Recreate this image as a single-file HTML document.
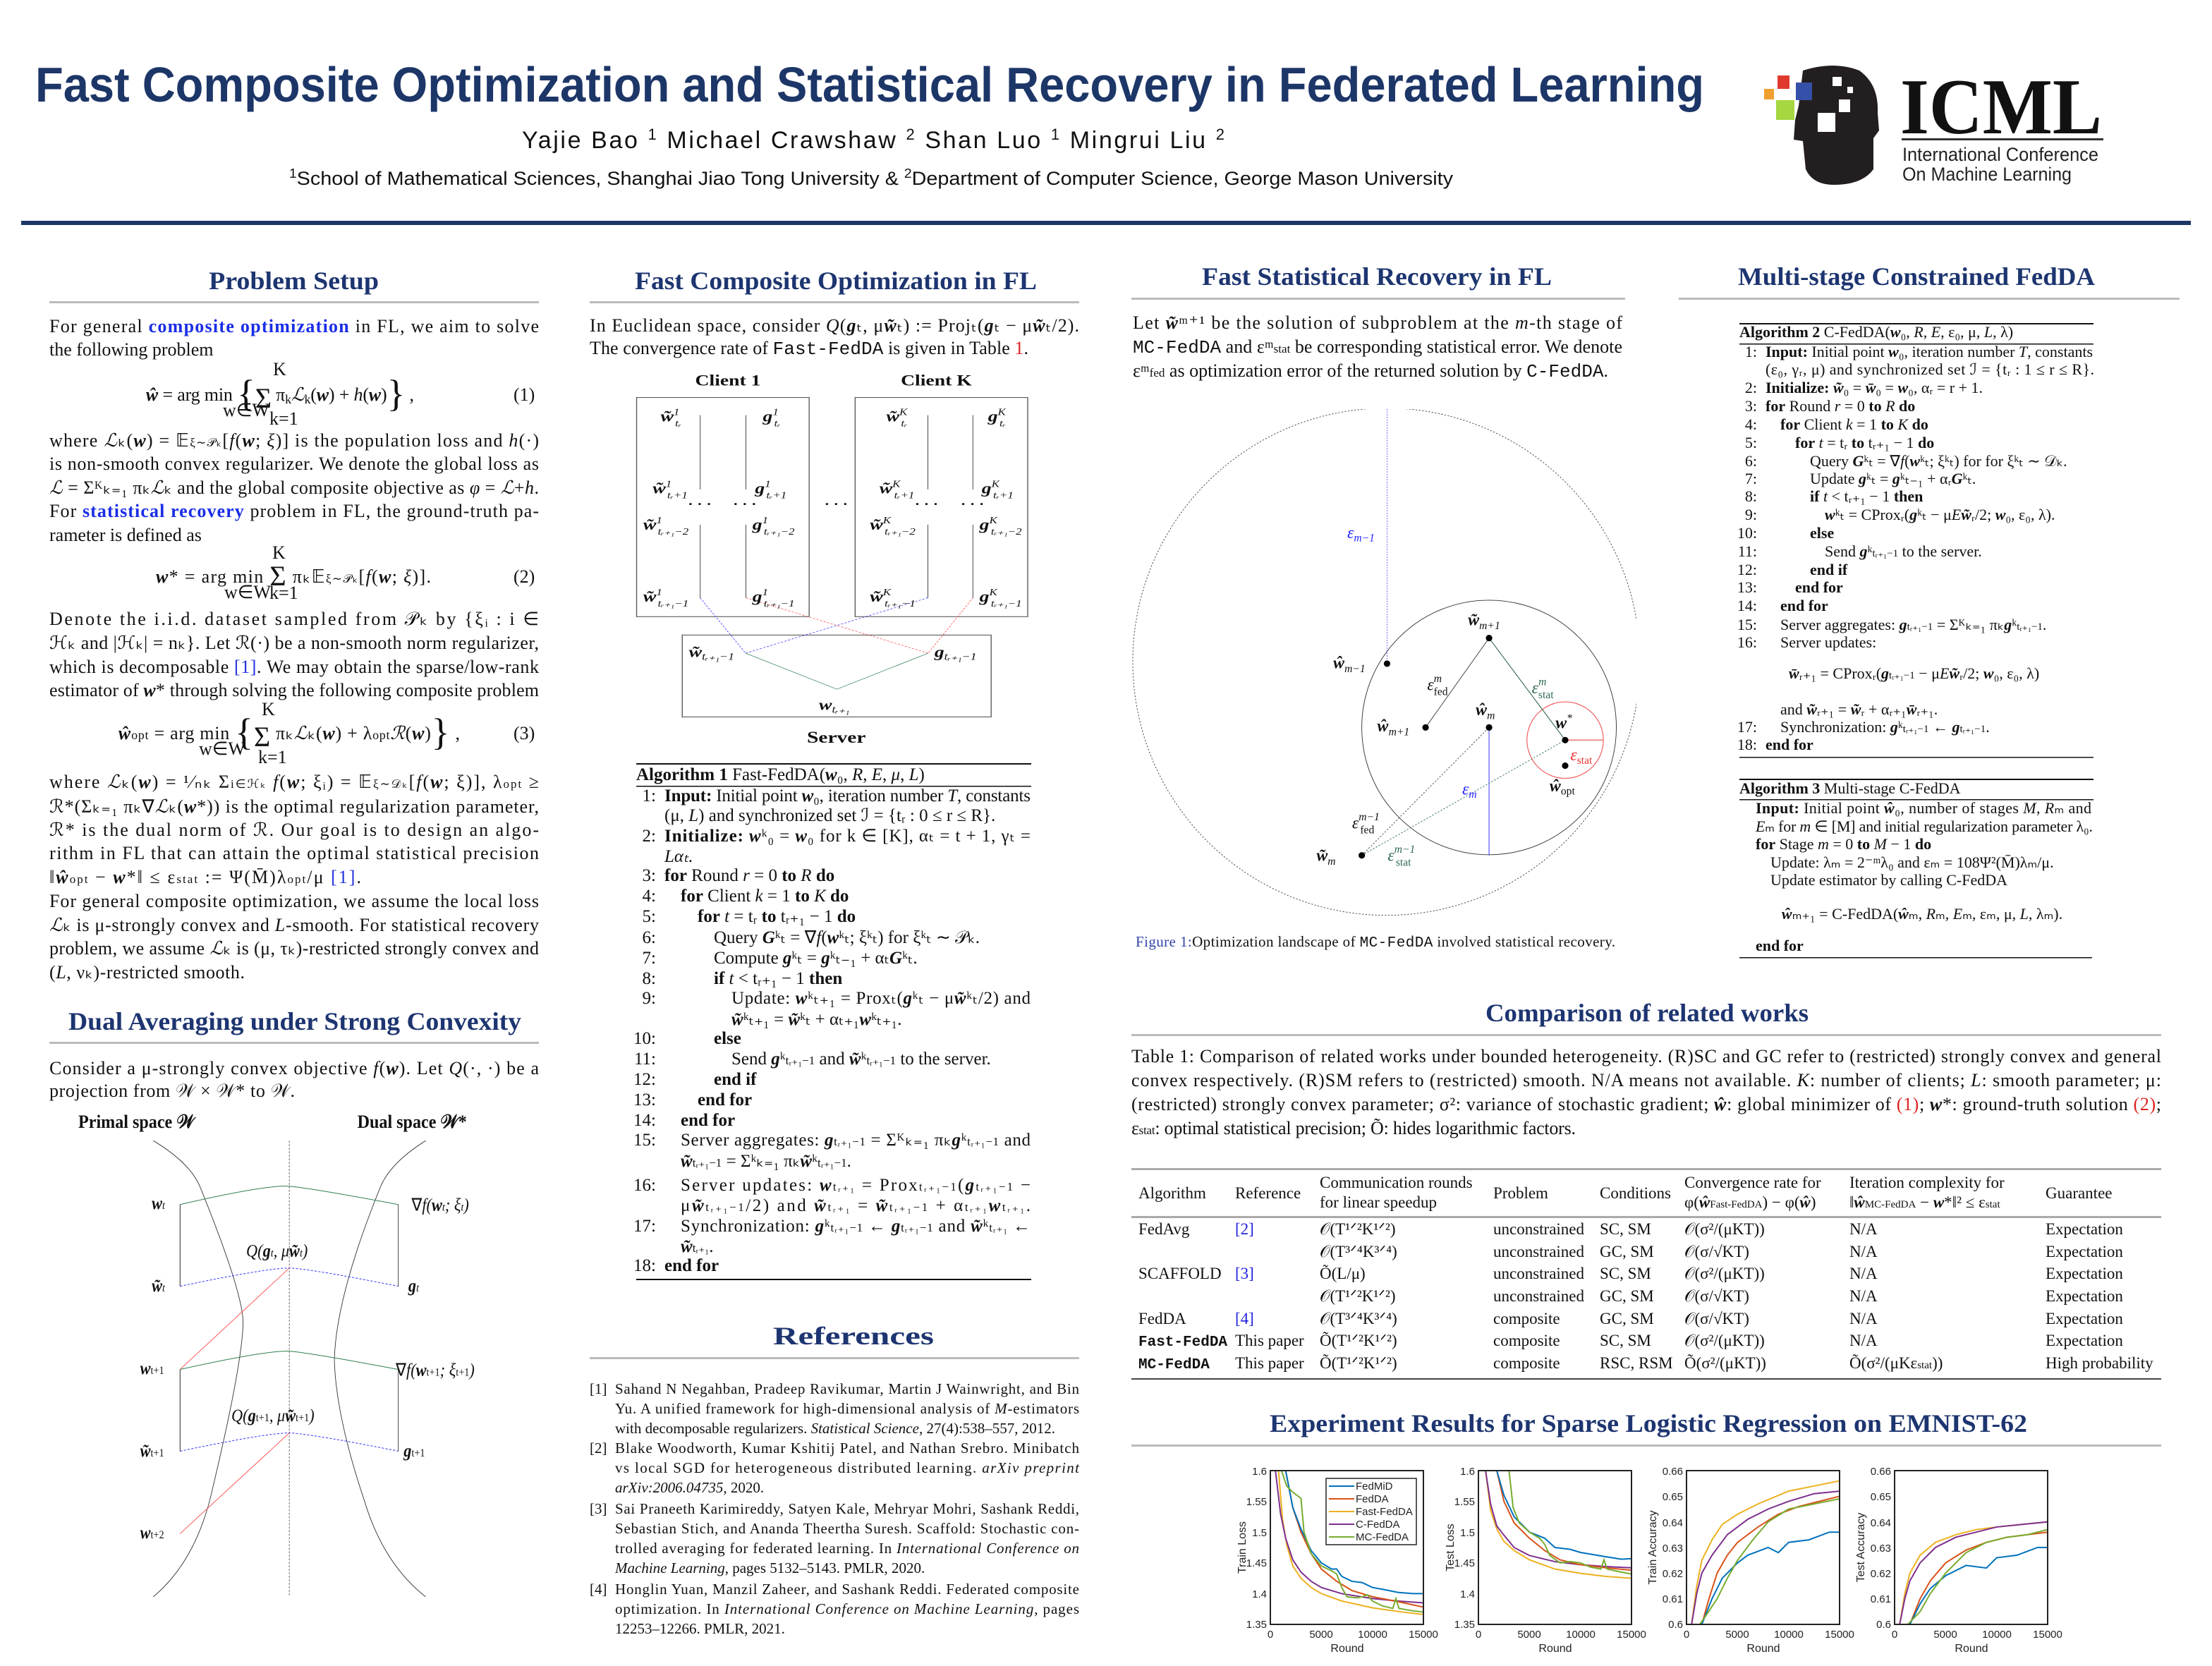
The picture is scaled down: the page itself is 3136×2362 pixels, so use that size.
<!DOCTYPE html>
<html><head><meta charset="utf-8"><style>
html,body{margin:0;padding:0;background:#fff}
svg{display:block}
.t{font-family:"Liberation Serif",serif;font-size:26px;fill:#111}
.h{font-family:"Liberation Serif",serif;font-weight:bold;font-size:36px;fill:#1d3570}
.b{font-weight:bold}
.bl{fill:#1a2ee6;font-weight:bold}
.lk{fill:#2233dd}
.a{font-family:"Liberation Serif",serif;font-size:25px;fill:#111}
.a2{font-family:"Liberation Serif",serif;font-size:22px;fill:#111}
.r{font-family:"Liberation Serif",serif;font-size:21px;fill:#111}
.tb{font-family:"Liberation Serif",serif;font-size:23px;fill:#111}
.s{font-family:"Liberation Sans",sans-serif;font-size:15px;fill:#222}
.m{font-family:"Liberation Serif",serif;font-style:italic}
</style></head><body>
<svg width="3136" height="2362" viewBox="0 0 3136 2362" xmlns="http://www.w3.org/2000/svg">
<rect width="3136" height="2362" fill="#fff"/>
<!-- Header -->
<text x="50" y="144" font-family="Liberation Sans,sans-serif" font-weight="bold" font-size="70" fill="#1d3668" textLength="2366" lengthAdjust="spacingAndGlyphs">Fast Composite Optimization and Statistical Recovery in Federated Learning</text>
<text x="740" y="210" font-family="Liberation Sans,sans-serif" font-size="34" fill="#111" textLength="996" lengthAdjust="spacing">Yajie Bao <tspan font-size="22" dy="-12">1</tspan><tspan dy="12">    Michael Crawshaw </tspan><tspan font-size="22" dy="-12">2</tspan><tspan dy="12">    Shan Luo </tspan><tspan font-size="22" dy="-12">1</tspan><tspan dy="12">    Mingrui Liu </tspan><tspan font-size="22" dy="-12">2</tspan></text>
<text x="410" y="262" font-family="Liberation Sans,sans-serif" font-size="27" fill="#111" textLength="1650" lengthAdjust="spacingAndGlyphs"><tspan font-size="18" dy="-10">1</tspan><tspan dy="10">School of Mathematical Sciences, Shanghai Jiao Tong University &amp; </tspan><tspan font-size="18" dy="-10">2</tspan><tspan dy="10">Department of Computer Science, George Mason University</tspan></text>
<rect x="30" y="313" width="3076" height="6" fill="#1d3668"/>
<!-- ICML logo -->
<path d="M2556 100 Q2600 86 2636 100 Q2664 120 2662 160 L2664 185 L2656 196 L2656 240 Q2640 262 2600 262 Q2570 262 2560 240 L2556 200 L2543 198 L2545 170 L2550 150 Z" fill="#231f20"/>
<rect x="2520" y="107" width="17" height="19" fill="#e03a2f"/>
<rect x="2546" y="117" width="23" height="25" fill="#3550a8"/>
<rect x="2501" y="126" width="14" height="15" fill="#f0a030"/>
<rect x="2518" y="142" width="26" height="28" fill="#a6d640"/>
<rect x="2598" y="109" width="13" height="13" fill="#fff"/>
<rect x="2619" y="123" width="8" height="9" fill="#fff"/>
<rect x="2607" y="141" width="16" height="18" fill="#fff"/>
<rect x="2577" y="160" width="25" height="27" fill="#fff"/>
<text x="2694" y="189" font-family="Liberation Serif,serif" font-weight="bold" font-size="112" fill="#111" textLength="286" lengthAdjust="spacingAndGlyphs">ICML</text>
<rect x="2696" y="196" width="286" height="3" fill="#333"/>
<text x="2697" y="228" font-family="Liberation Sans,sans-serif" font-size="27" fill="#222" textLength="278" lengthAdjust="spacingAndGlyphs">International Conference</text>
<text x="2697" y="256" font-family="Liberation Sans,sans-serif" font-size="27" fill="#222" textLength="240" lengthAdjust="spacingAndGlyphs">On Machine Learning</text>

<!-- Column headings -->
<text class="h" x="296" y="410" textLength="241" lengthAdjust="spacingAndGlyphs">Problem Setup</text>
<rect x="70" y="427" width="694" height="3" fill="#bbb"/>
<text class="h" x="900" y="410" textLength="570" lengthAdjust="spacingAndGlyphs">Fast Composite Optimization in FL</text>
<rect x="836" y="427" width="694" height="3" fill="#bbb"/>
<text class="h" x="1704" y="404" textLength="496" lengthAdjust="spacingAndGlyphs">Fast Statistical Recovery in FL</text>
<rect x="1604" y="422" width="700" height="3" fill="#bbb"/>
<text class="h" x="2464" y="404" textLength="506" lengthAdjust="spacingAndGlyphs">Multi-stage Constrained FedDA</text>
<rect x="2380" y="422" width="710" height="3" fill="#bbb"/>

<!-- Column 1 -->
<text class="t" x="70" y="471" textLength="694" lengthAdjust="spacing">For general <tspan class="bl">composite optimization</tspan> in FL, we aim to solve</text>
<text class="t" x="70" y="504">the following problem</text>
<text class="t" x="207" y="568" textLength="380" lengthAdjust="spacing"><tspan class="m b">ŵ</tspan> = arg min <tspan font-size="54" dy="8">{</tspan><tspan font-size="40" dy="2">Σ</tspan><tspan dy="-10"> π</tspan><tspan font-size="18" dy="4">k</tspan><tspan class="m" dy="-4">ℒ</tspan><tspan font-size="18" dy="4">k</tspan><tspan dy="-4">(</tspan><tspan class="m b">w</tspan>) + <tspan class="m">h</tspan>(<tspan class="m b">w</tspan>)<tspan font-size="54" dy="8">}</tspan><tspan dy="-8"> ,</tspan></text>
<text class="t" x="316" y="590" font-size="17">w∈W</text><text class="t" x="382" y="602" font-size="17">k=1</text><text class="t" x="387" y="532" font-size="17">K</text>
<text class="t" x="728" y="568">(1)</text>
<text class="t" x="70" y="633" textLength="694" lengthAdjust="spacing">where <tspan class="m">ℒ</tspan>ₖ(<tspan class="m b">w</tspan>) = 𝔼<tspan font-size="17">ξ∼𝒫ₖ</tspan>[<tspan class="m">f</tspan>(<tspan class="m b">w</tspan>; <tspan class="m">ξ</tspan>)] is the population loss and <tspan class="m">h</tspan>(·)</text>
<text class="t" x="70" y="666" textLength="694" lengthAdjust="spacing">is non-smooth convex regularizer. We denote the global loss as</text>
<text class="t" x="70" y="700" textLength="694" lengthAdjust="spacing"><tspan class="m">ℒ</tspan> = Σᴷₖ₌₁ πₖ<tspan class="m">ℒ</tspan>ₖ and the global composite objective as <tspan class="m">φ</tspan> = <tspan class="m">ℒ</tspan>+<tspan class="m">h</tspan>.</text>
<text class="t" x="70" y="733" textLength="694" lengthAdjust="spacing">For <tspan class="bl">statistical recovery</tspan> problem in FL, the ground-truth pa-</text>
<text class="t" x="70" y="767">rameter is defined as</text>
<text class="t" x="221" y="826" textLength="390" lengthAdjust="spacing"><tspan class="m b">w</tspan>* = arg min <tspan font-size="40" dy="4">Σ</tspan><tspan dy="-4"> πₖ𝔼</tspan><tspan font-size="17">ξ∼𝒫ₖ</tspan>[<tspan class="m">f</tspan>(<tspan class="m b">w</tspan>; <tspan class="m">ξ</tspan>)].</text>
<text class="t" x="318" y="848" font-size="17">w∈W</text><text class="t" x="382" y="849" font-size="17">k=1</text><text class="t" x="386" y="792" font-size="17">K</text>
<text class="t" x="728" y="826">(2)</text>
<text class="t" x="70" y="886" textLength="694" lengthAdjust="spacing">Denote the i.i.d.  dataset sampled from 𝒫ₖ by {ξᵢ : i ∈</text>
<text class="t" x="70" y="920" textLength="694" lengthAdjust="spacing">ℋₖ and |ℋₖ| = nₖ}. Let ℛ(·) be a non-smooth norm regularizer,</text>
<text class="t" x="70" y="954" textLength="694" lengthAdjust="spacing">which is decomposable <tspan class="lk">[1]</tspan>. We may obtain the sparse/low-rank</text>
<text class="t" x="70" y="987" textLength="694" lengthAdjust="spacing">estimator of <tspan class="m b">w</tspan>* through solving the following composite problem</text>
<text class="t" x="168" y="1048" textLength="484" lengthAdjust="spacing"><tspan class="m b">ŵ</tspan><tspan font-size="18">opt</tspan> = arg min <tspan font-size="54" dy="8">{</tspan><tspan font-size="40" dy="2">Σ</tspan><tspan dy="-10"> πₖ</tspan><tspan class="m">ℒ</tspan>ₖ(<tspan class="m b">w</tspan>) + λ<tspan font-size="18">opt</tspan><tspan class="m">ℛ</tspan>(<tspan class="m b">w</tspan>)<tspan font-size="54" dy="8">}</tspan><tspan dy="-8"> ,</tspan></text>
<text class="t" x="282" y="1070" font-size="17">w∈W</text><text class="t" x="366" y="1082" font-size="17">k=1</text><text class="t" x="371" y="1014" font-size="17">K</text>
<text class="t" x="728" y="1048">(3)</text>
<text class="t" x="70" y="1117" textLength="694" lengthAdjust="spacing">where <tspan class="m">ℒ</tspan>ₖ(<tspan class="m b">w</tspan>) = ¹⁄ₙₖ Σ<tspan font-size="17">i∈ℋₖ</tspan> <tspan class="m">f</tspan>(<tspan class="m b">w</tspan>; ξᵢ) = 𝔼<tspan font-size="17">ξ∼𝒟ₖ</tspan>[<tspan class="m">f</tspan>(<tspan class="m b">w</tspan>; ξ)], λ<tspan font-size="17">opt</tspan> ≥</text>
<text class="t" x="70" y="1152" textLength="694" lengthAdjust="spacing">ℛ*(Σₖ₌₁ πₖ∇<tspan class="m">ℒ</tspan>ₖ(<tspan class="m b">w</tspan>*)) is the optimal regularization parameter,</text>
<text class="t" x="70" y="1185" textLength="694" lengthAdjust="spacing">ℛ* is the dual norm of ℛ.  Our goal is to design an algo-</text>
<text class="t" x="70" y="1218" textLength="694" lengthAdjust="spacing">rithm in FL that can attain the optimal statistical precision</text>
<text class="t" x="70" y="1252" textLength="442" lengthAdjust="spacing">‖<tspan class="m b">ŵ</tspan><tspan font-size="17">opt</tspan> − <tspan class="m b">w</tspan>*‖ ≤ ε<tspan font-size="17">stat</tspan> := Ψ(M̄)λ<tspan font-size="17">opt</tspan>/μ <tspan class="lk">[1]</tspan>.</text>
<text class="t" x="70" y="1286" textLength="694" lengthAdjust="spacing">For general composite optimization, we assume the local loss</text>
<text class="t" x="70" y="1320" textLength="694" lengthAdjust="spacing"><tspan class="m">ℒ</tspan>ₖ is μ-strongly convex and <tspan class="m">L</tspan>-smooth. For statistical recovery</text>
<text class="t" x="70" y="1353" textLength="694" lengthAdjust="spacing">problem, we assume <tspan class="m">ℒ</tspan>ₖ is (μ, τₖ)-restricted strongly convex and</text>
<text class="t" x="70" y="1387" textLength="277" lengthAdjust="spacing">(<tspan class="m">L</tspan>, νₖ)-restricted smooth.</text>
<text class="h" x="97" y="1460" textLength="642" lengthAdjust="spacingAndGlyphs">Dual Averaging under Strong Convexity</text>
<rect x="70" y="1477" width="694" height="3" fill="#bbb"/>
<text class="t" x="70" y="1523" textLength="694" lengthAdjust="spacing">Consider a μ-strongly convex objective <tspan class="m">f</tspan>(<tspan class="m b">w</tspan>).  Let <tspan class="m">Q</tspan>(·, ·) be a</text>
<text class="t" x="70" y="1555" textLength="348" lengthAdjust="spacing">projection from 𝒲 × 𝒲* to 𝒲.</text>

<!-- Primal / dual figure -->
<svg x="70" y="1560" width="700" height="780" viewBox="0 0 1568 1568" preserveAspectRatio="none">
<g font-family="Liberation Serif,serif" fill="#111">
<text x="92" y="78" font-size="54" font-weight="bold">Primal space 𝒲</text>
<text x="978" y="78" font-size="54" font-weight="bold">Dual space 𝒲*</text>
<path d="M330 115 Q450 180 480 250 Q620 560 615 640 Q610 760 520 1100 Q470 1310 330 1415" fill="none" stroke="#333" stroke-width="2"/>
<path d="M1195 115 Q1080 180 1050 250 Q910 560 905 740 Q910 900 1000 1140 Q1060 1320 1195 1415" fill="none" stroke="#333" stroke-width="2"/>
<line x1="762" y1="115" x2="762" y2="1415" stroke="#555" stroke-width="2" stroke-dasharray="6,4"/>
<path d="M415 297 Q690 240 762 245 Q830 250 1108 297" fill="none" stroke="#2e7d4f" stroke-width="2"/>
<path d="M415 767 Q690 712 762 715 Q830 720 1108 767" fill="none" stroke="#2e7d4f" stroke-width="2"/>
<path d="M415 530 Q690 478 762 478 Q830 480 1108 530" fill="none" stroke="#33f" stroke-width="2" stroke-dasharray="7,5"/>
<path d="M415 1000 Q690 948 762 948 Q830 950 1108 1000" fill="none" stroke="#33f" stroke-width="2" stroke-dasharray="7,5"/>
<line x1="415" y1="297" x2="415" y2="530" stroke="#111" stroke-width="2"/>
<line x1="415" y1="767" x2="415" y2="1000" stroke="#111" stroke-width="2"/>
<line x1="1108" y1="297" x2="1108" y2="530" stroke="#333" stroke-width="2"/>
<line x1="1108" y1="767" x2="1108" y2="1000" stroke="#333" stroke-width="2"/>
<line x1="762" y1="478" x2="415" y2="767" stroke="#f55" stroke-width="2"/>
<line x1="762" y1="948" x2="415" y2="1235" stroke="#f55" stroke-width="2"/>
<g font-size="50" font-style="italic">
<text x="325" y="310" font-weight="bold">w<tspan font-size="32" font-weight="normal">t</tspan></text>
<text x="325" y="545" font-weight="bold">w̃<tspan font-size="32" font-weight="normal">t</tspan></text>
<text x="288" y="780" font-weight="bold">w<tspan font-size="32" font-weight="normal" font-style="normal">t+1</tspan></text>
<text x="288" y="1015" font-weight="bold">w̃<tspan font-size="32" font-weight="normal" font-style="normal">t+1</tspan></text>
<text x="288" y="1248" font-weight="bold">w<tspan font-size="32" font-weight="normal" font-style="normal">t+2</tspan></text>
<text x="1150" y="315"><tspan font-style="normal">∇</tspan>f(<tspan font-weight="bold">w</tspan><tspan font-size="32">t</tspan>; ξ<tspan font-size="32">t</tspan>)</text>
<text x="1140" y="545" font-weight="bold">g<tspan font-size="32" font-weight="normal">t</tspan></text>
<text x="1100" y="785"><tspan font-style="normal">∇</tspan>f(<tspan font-weight="bold">w</tspan><tspan font-size="32" font-style="normal">t+1</tspan>; ξ<tspan font-size="32" font-style="normal">t+1</tspan>)</text>
<text x="1125" y="1015" font-weight="bold">g<tspan font-size="32" font-weight="normal" font-style="normal">t+1</tspan></text>
<text x="625" y="445">Q(<tspan font-weight="bold">g</tspan><tspan font-size="32">t</tspan>, μ<tspan font-weight="bold">w̃</tspan><tspan font-size="32">t</tspan>)</text>
<text x="578" y="915">Q(<tspan font-weight="bold">g</tspan><tspan font-size="32" font-style="normal">t+1</tspan>, μ<tspan font-weight="bold">w̃</tspan><tspan font-size="32" font-style="normal">t+1</tspan>)</text>
</g></g></svg>

<!-- Column 2 -->
<text class="t" x="836" y="470" textLength="694" lengthAdjust="spacing">In Euclidean space, consider <tspan class="m">Q</tspan>(<tspan class="m b">g</tspan>ₜ, μ<tspan class="m b">w̃</tspan>ₜ) := Projₜ(<tspan class="m b">g</tspan>ₜ − μ<tspan class="m b">w̃</tspan>ₜ/2).</text>
<text class="t" x="836" y="502" textLength="622" lengthAdjust="spacing">The convergence rate of <tspan font-family="Liberation Mono,monospace">Fast-FedDA</tspan> is given in Table <tspan fill="#d22">1</tspan>.</text>
<svg x="836" y="510" width="700" height="560" viewBox="0 0 1568 1568" preserveAspectRatio="none">
<g font-family="Liberation Serif,serif" fill="#111">
<text x="335" y="102" font-size="62" font-weight="bold">Client 1</text>
<text x="988" y="102" font-size="62" font-weight="bold">Client K</text>
<rect x="149" y="150" width="548" height="870" fill="none" stroke="#555" stroke-width="3"/>
<rect x="843" y="150" width="548" height="870" fill="none" stroke="#555" stroke-width="3"/>
<rect x="294" y="1093" width="981" height="325" fill="none" stroke="#555" stroke-width="3"/>
<g stroke="#333" stroke-width="2">
<line x1="351" y1="220" x2="351" y2="515"/><line x1="496" y1="220" x2="496" y2="515"/>
<line x1="351" y1="655" x2="351" y2="945"/><line x1="496" y1="655" x2="496" y2="945"/>
<line x1="1074" y1="220" x2="1074" y2="515"/><line x1="1217" y1="220" x2="1217" y2="515"/>
<line x1="1074" y1="655" x2="1074" y2="945"/><line x1="1217" y1="655" x2="1217" y2="945"/>
</g>
<g stroke-width="2" stroke-dasharray="7,5" fill="none">
<line x1="351" y1="945" x2="495" y2="1165" stroke="#33f"/><line x1="1074" y1="945" x2="495" y2="1165" stroke="#33f"/>
<line x1="496" y1="945" x2="1075" y2="1165" stroke="#f44"/><line x1="1217" y1="945" x2="1075" y2="1165" stroke="#f44"/>
</g>
<polyline points="495,1165 785,1308 1075,1165" fill="none" stroke="#2e7d4f" stroke-width="2"/>
<g font-size="62" font-style="italic" font-weight="bold">
<text x="225" y="245">w̃<tspan font-size="38" font-weight="normal" dy="-25">1</tspan><tspan font-size="38" font-weight="normal" dx="-14" dy="45">tᵣ</tspan></text>
<text x="550" y="245">g<tspan font-size="38" font-weight="normal" dy="-25">1</tspan><tspan font-size="38" font-weight="normal" dx="-14" dy="45">tᵣ</tspan></text>
<text x="200" y="530">w̃<tspan font-size="38" font-weight="normal" dy="-25">1</tspan><tspan font-size="38" font-weight="normal" dx="-14" dy="45">tᵣ+1</tspan></text>
<text x="525" y="530">g<tspan font-size="38" font-weight="normal" dy="-25">1</tspan><tspan font-size="38" font-weight="normal" dx="-14" dy="45">tᵣ+1</tspan></text>
<text x="170" y="675">w̃<tspan font-size="38" font-weight="normal" dy="-25">1</tspan><tspan font-size="38" font-weight="normal" dx="-14" dy="45">tᵣ₊₁−2</tspan></text>
<text x="517" y="675">g<tspan font-size="38" font-weight="normal" dy="-25">1</tspan><tspan font-size="38" font-weight="normal" dx="-14" dy="45">tᵣ₊₁−2</tspan></text>
<text x="170" y="960">w̃<tspan font-size="38" font-weight="normal" dy="-25">1</tspan><tspan font-size="38" font-weight="normal" dx="-14" dy="45">tᵣ₊₁−1</tspan></text>
<text x="517" y="960">g<tspan font-size="38" font-weight="normal" dy="-25">1</tspan><tspan font-size="38" font-weight="normal" dx="-14" dy="45">tᵣ₊₁−1</tspan></text>
<text x="942" y="245">w̃<tspan font-size="38" font-weight="normal" dy="-25">K</tspan><tspan font-size="38" font-weight="normal" dx="-20" dy="45">tᵣ</tspan></text>
<text x="1265" y="245">g<tspan font-size="38" font-weight="normal" dy="-25">K</tspan><tspan font-size="38" font-weight="normal" dx="-20" dy="45">tᵣ</tspan></text>
<text x="920" y="530">w̃<tspan font-size="38" font-weight="normal" dy="-25">K</tspan><tspan font-size="38" font-weight="normal" dx="-20" dy="45">tᵣ+1</tspan></text>
<text x="1245" y="530">g<tspan font-size="38" font-weight="normal" dy="-25">K</tspan><tspan font-size="38" font-weight="normal" dx="-20" dy="45">tᵣ+1</tspan></text>
<text x="890" y="675">w̃<tspan font-size="38" font-weight="normal" dy="-25">K</tspan><tspan font-size="38" font-weight="normal" dx="-20" dy="45">tᵣ₊₁−2</tspan></text>
<text x="1238" y="675">g<tspan font-size="38" font-weight="normal" dy="-25">K</tspan><tspan font-size="38" font-weight="normal" dx="-20" dy="45">tᵣ₊₁−2</tspan></text>
<text x="890" y="960">w̃<tspan font-size="38" font-weight="normal" dy="-25">K</tspan><tspan font-size="38" font-weight="normal" dx="-20" dy="45">tᵣ₊₁−1</tspan></text>
<text x="1238" y="960">g<tspan font-size="38" font-weight="normal" dy="-25">K</tspan><tspan font-size="38" font-weight="normal" dx="-20" dy="45">tᵣ₊₁−1</tspan></text>
<text x="315" y="1180">w̃<tspan font-size="40" font-weight="normal" dy="12">tᵣ₊₁−1</tspan></text>
<text x="1095" y="1180">g<tspan font-size="40" font-weight="normal" dy="12">tᵣ₊₁−1</tspan></text>
<text x="728" y="1390">w<tspan font-size="40" font-weight="normal" dy="12">tᵣ₊₁</tspan></text>
</g>
<g font-size="50" font-weight="bold"><text x="312" y="590">· · ·</text><text x="455" y="590">· · ·</text><text x="745" y="590">· · ·</text><text x="1032" y="590">· · ·</text><text x="1178" y="590">· · ·</text></g>
<text x="690" y="1520" font-size="66" font-weight="bold">Server</text>
</g></svg>

<!-- Algorithm 1 -->
<rect x="902" y="1082" width="560" height="2" fill="#111"/>
<text class="a" x="902" y="1106"><tspan class="b">Algorithm 1</tspan> Fast-FedDA(<tspan class="m b">w</tspan>₀, <tspan class="m">R</tspan>, <tspan class="m">E</tspan>, <tspan class="m">μ</tspan>, <tspan class="m">L</tspan>)</text>
<rect x="902" y="1114" width="560" height="1.5" fill="#111"/>
<g class="a">
<text x="930" y="1136" text-anchor="end">1:</text><text x="942" y="1136" textLength="519" lengthAdjust="spacing"><tspan class="b">Input:</tspan> Initial point <tspan class="m b">w</tspan>₀, iteration number <tspan class="m">T</tspan>, constants</text>
<text x="942" y="1164">(μ, <tspan class="m">L</tspan>) and synchronized set ℐ = {tᵣ : 0 ≤ r ≤ R}.</text>
<text x="930" y="1193" text-anchor="end">2:</text><text x="942" y="1193" textLength="519" lengthAdjust="spacing"><tspan class="b">Initialize:</tspan> <tspan class="m b">w</tspan>ᵏ₀ = <tspan class="m b">w</tspan>₀ for k ∈ [K], αₜ = t + 1, γₜ =</text>
<text x="942" y="1222" class="m">Lαₜ.</text>
<text x="930" y="1249" text-anchor="end">3:</text><text x="942" y="1249"><tspan class="b">for</tspan> Round <tspan class="m">r</tspan> = 0 <tspan class="b">to</tspan> <tspan class="m">R</tspan> <tspan class="b">do</tspan></text>
<text x="930" y="1278" text-anchor="end">4:</text><text x="965" y="1278"><tspan class="b">for</tspan> Client <tspan class="m">k</tspan> = 1 <tspan class="b">to</tspan> <tspan class="m">K</tspan> <tspan class="b">do</tspan></text>
<text x="930" y="1307" text-anchor="end">5:</text><text x="989" y="1307"><tspan class="b">for</tspan> <tspan class="m">t</tspan> = tᵣ <tspan class="b">to</tspan> tᵣ₊₁ − 1 <tspan class="b">do</tspan></text>
<text x="930" y="1337" text-anchor="end">6:</text><text x="1012" y="1337">Query <tspan class="m b">G</tspan>ᵏₜ = ∇<tspan class="m">f</tspan>(<tspan class="m b">w</tspan>ᵏₜ; ξᵏₜ) for ξᵏₜ ∼ 𝒫ₖ.</text>
<text x="930" y="1366" text-anchor="end">7:</text><text x="1012" y="1366">Compute <tspan class="m b">g</tspan>ᵏₜ = <tspan class="m b">g</tspan>ᵏₜ₋₁ + αₜ<tspan class="m b">G</tspan>ᵏₜ.</text>
<text x="930" y="1395" text-anchor="end">8:</text><text x="1012" y="1395"><tspan class="b">if</tspan> <tspan class="m">t</tspan> &lt; tᵣ₊₁ − 1 <tspan class="b">then</tspan></text>
<text x="930" y="1423" text-anchor="end">9:</text><text x="1037" y="1423" textLength="424" lengthAdjust="spacing">Update: <tspan class="m b">w</tspan>ᵏₜ₊₁ = Proxₜ(<tspan class="m b">g</tspan>ᵏₜ − μ<tspan class="m b">w̃</tspan>ᵏₜ/2) and</text>
<text x="1037" y="1453"><tspan class="m b">w̃</tspan>ᵏₜ₊₁ = <tspan class="m b">w̃</tspan>ᵏₜ + αₜ₊₁<tspan class="m b">w</tspan>ᵏₜ₊₁.</text>
<text x="930" y="1480" text-anchor="end">10:</text><text x="1012" y="1480" class="b">else</text>
<text x="930" y="1509" text-anchor="end">11:</text><text x="1037" y="1509">Send <tspan class="m b">g</tspan>ᵏ<tspan font-size="17">tᵣ₊₁−1</tspan> and <tspan class="m b">w̃</tspan>ᵏ<tspan font-size="17">tᵣ₊₁−1</tspan> to the server.</text>
<text x="930" y="1538" text-anchor="end">12:</text><text x="1012" y="1538" class="b">end if</text>
<text x="930" y="1567" text-anchor="end">13:</text><text x="989" y="1567" class="b">end for</text>
<text x="930" y="1596" text-anchor="end">14:</text><text x="965" y="1596" class="b">end for</text>
<text x="930" y="1624" text-anchor="end">15:</text><text x="965" y="1624" textLength="496" lengthAdjust="spacing">Server aggregates: <tspan class="m b">g</tspan><tspan font-size="17">tᵣ₊₁−1</tspan> = Σᴷₖ₌₁ πₖ<tspan class="m b">g</tspan>ᵏ<tspan font-size="17">tᵣ₊₁−1</tspan> and</text>
<text x="965" y="1654"><tspan class="m b">w̃</tspan><tspan font-size="17">tᵣ₊₁−1</tspan> = Σᵏₖ₌₁ πₖ<tspan class="m b">w̃</tspan>ᵏ<tspan font-size="17">tᵣ₊₁−1</tspan>.</text>
<text x="930" y="1688" text-anchor="end">16:</text><text x="965" y="1688" textLength="496" lengthAdjust="spacing">Server updates: <tspan class="m b">w</tspan><tspan font-size="17">tᵣ₊₁</tspan> = Prox<tspan font-size="17">tᵣ₊₁−1</tspan>(<tspan class="m b">g</tspan><tspan font-size="17">tᵣ₊₁−1</tspan> −</text>
<text x="965" y="1717" textLength="496" lengthAdjust="spacing">μ<tspan class="m b">w̃</tspan><tspan font-size="17">tᵣ₊₁−1</tspan>/2) and <tspan class="m b">w̃</tspan><tspan font-size="17">tᵣ₊₁</tspan> = <tspan class="m b">w̃</tspan><tspan font-size="17">tᵣ₊₁−1</tspan> + α<tspan font-size="17">tᵣ₊₁</tspan><tspan class="m b">w</tspan><tspan font-size="17">tᵣ₊₁</tspan>.</text>
<text x="930" y="1746" text-anchor="end">17:</text><text x="965" y="1746" textLength="496" lengthAdjust="spacing">Synchronization: <tspan class="m b">g</tspan>ᵏ<tspan font-size="17">tᵣ₊₁−1</tspan> ← <tspan class="m b">g</tspan><tspan font-size="17">tᵣ₊₁−1</tspan> and <tspan class="m b">w̃</tspan>ᵏ<tspan font-size="17">tᵣ₊₁</tspan> ←</text>
<text x="965" y="1775"><tspan class="m b">w̃</tspan><tspan font-size="17">tᵣ₊₁</tspan>.</text>
<text x="930" y="1802" text-anchor="end">18:</text><text x="942" y="1802" class="b">end for</text>
</g>
<rect x="902" y="1813" width="560" height="2" fill="#111"/>

<!-- References -->
<text class="h" x="1096" y="1906" textLength="228" lengthAdjust="spacingAndGlyphs">References</text>
<rect x="836" y="1924" width="694" height="3" fill="#bbb"/>
<g class="r">
<text x="836" y="1976">[1]</text><text x="872" y="1976" textLength="658" lengthAdjust="spacing">Sahand N Negahban, Pradeep Ravikumar, Martin J Wainwright, and Bin</text>
<text x="872" y="2004" textLength="658" lengthAdjust="spacing">Yu.  A unified framework for high-dimensional analysis of <tspan class="m">M</tspan>-estimators</text>
<text x="872" y="2032">with decomposable regularizers. <tspan font-style="italic">Statistical Science</tspan>, 27(4):538–557, 2012.</text>
<text x="836" y="2060">[2]</text><text x="872" y="2060" textLength="658" lengthAdjust="spacing">Blake Woodworth, Kumar Kshitij Patel, and Nathan Srebro.  Minibatch</text>
<text x="872" y="2088" textLength="658" lengthAdjust="spacing">vs local SGD for heterogeneous distributed learning.  <tspan font-style="italic">arXiv preprint</tspan></text>
<text x="872" y="2116"><tspan font-style="italic">arXiv:2006.04735</tspan>, 2020.</text>
<text x="836" y="2146">[3]</text><text x="872" y="2146" textLength="658" lengthAdjust="spacing">Sai Praneeth Karimireddy, Satyen Kale, Mehryar Mohri, Sashank Reddi,</text>
<text x="872" y="2174" textLength="658" lengthAdjust="spacing">Sebastian Stich, and Ananda Theertha Suresh.  Scaffold: Stochastic con-</text>
<text x="872" y="2202" textLength="658" lengthAdjust="spacing">trolled averaging for federated learning.  In <tspan font-style="italic">International Conference on</tspan></text>
<text x="872" y="2230"><tspan font-style="italic">Machine Learning</tspan>, pages 5132–5143. PMLR, 2020.</text>
<text x="836" y="2260">[4]</text><text x="872" y="2260" textLength="658" lengthAdjust="spacing">Honglin Yuan, Manzil Zaheer, and Sashank Reddi.  Federated composite</text>
<text x="872" y="2288" textLength="658" lengthAdjust="spacing">optimization. In <tspan font-style="italic">International Conference on Machine Learning</tspan>, pages</text>
<text x="872" y="2316">12253–12266. PMLR, 2021.</text>
</g>

<!-- Column 3 -->
<text class="t" x="1606" y="466" textLength="694" lengthAdjust="spacing">Let <tspan class="m b">w̃</tspan>ᵐ⁺¹ be the solution of subproblem at the <tspan class="m">m</tspan>-th stage of</text>
<text class="t" x="1606" y="500" textLength="694" lengthAdjust="spacing"><tspan font-family="Liberation Mono,monospace">MC-FedDA</tspan> and εᵐ<tspan font-size="17">stat</tspan> be corresponding statistical error.  We denote</text>
<text class="t" x="1606" y="534" textLength="674" lengthAdjust="spacing">εᵐ<tspan font-size="17">fed</tspan> as optimization error of the returned solution by <tspan font-family="Liberation Mono,monospace">C-FedDA</tspan>.</text>
<svg x="1600" y="580" width="720" height="720" viewBox="0 0 1568 1568">
<g font-family="Liberation Serif,serif" fill="#111">
<circle cx="796" cy="780" r="783" fill="none" stroke="#444" stroke-width="2" stroke-dasharray="5,5"/>
<circle cx="1113" cy="983" r="393" fill="none" stroke="#333" stroke-width="2"/>
<circle cx="1348" cy="1022" r="118" fill="none" stroke="#e33" stroke-width="2"/>
<line x1="798" y1="0" x2="798" y2="786" stroke="#55f" stroke-width="2" stroke-dasharray="4,4"/>
<line x1="1113" y1="983" x2="1113" y2="1378" stroke="#22f" stroke-width="2"/>
<line x1="1348" y1="1022" x2="1466" y2="1022" stroke="#e88" stroke-width="4"/>
<polyline points="917,983 1113,707 1348,1022" fill="none" stroke="#333" stroke-width="2"/>
<line x1="1113" y1="707" x2="1348" y2="1022" stroke="#2e6b4f" stroke-width="2"/>
<line x1="720" y1="1378" x2="1113" y2="983" stroke="#444" stroke-width="2" stroke-dasharray="5,5"/>
<line x1="720" y1="1378" x2="1348" y2="1022" stroke="#2e6b4f" stroke-width="2" stroke-dasharray="5,5"/>
<g fill="#000"><circle cx="798" cy="786" r="10"/><circle cx="1113" cy="707" r="10"/><circle cx="917" cy="983" r="10"/><circle cx="1113" cy="983" r="10"/><circle cx="1348" cy="1022" r="10"/><circle cx="1348" cy="1101" r="10"/><circle cx="720" cy="1378" r="10"/></g>
<g font-size="52" font-style="italic">
<text x="675" y="398" fill="#22f">ε<tspan font-size="34" dy="10">m−1</tspan></text>
<text x="632" y="800" font-weight="bold">ŵ<tspan font-size="34" font-weight="normal" dy="12">m−1</tspan></text>
<text x="1048" y="668" font-weight="bold">w̃<tspan font-size="34" font-weight="normal" dy="12">m+1</tspan></text>
<text x="768" y="995" font-weight="bold">ŵ<tspan font-size="34" font-weight="normal" dy="12">m+1</tspan></text>
<text x="1072" y="945" font-weight="bold">ŵ<tspan font-size="34" font-weight="normal" dy="12">m</tspan></text>
<text x="1318" y="985" font-weight="bold">w<tspan font-size="34" font-weight="normal" dy="-20">*</tspan></text>
<text x="1300" y="1180" font-weight="bold">ŵ<tspan font-size="34" font-weight="normal" font-style="normal" dy="10">opt</tspan></text>
<text x="580" y="1395" font-weight="bold">w̃<tspan font-size="34" font-weight="normal" dy="12">m</tspan></text>
<text x="922" y="868">ε<tspan font-size="34" dy="-25">m</tspan><tspan font-size="34" font-style="normal" dx="-25" dy="40">fed</tspan></text>
<text x="1245" y="878" fill="#2e6b4f">ε<tspan font-size="34" dy="-25">m</tspan><tspan font-size="34" font-style="normal" dx="-25" dy="40">stat</tspan></text>
<text x="1364" y="1085" fill="#e33">ε<tspan font-size="34" font-style="normal" dy="10">stat</tspan></text>
<text x="1030" y="1190" fill="#22f">ε<tspan font-size="34" dy="10">m</tspan></text>
<text x="690" y="1295">ε<tspan font-size="34" dy="-25">m−1</tspan><tspan font-size="34" font-style="normal" dx="-60" dy="40">fed</tspan></text>
<text x="800" y="1395" fill="#2e6b4f">ε<tspan font-size="34" dy="-25">m−1</tspan><tspan font-size="34" font-style="normal" dx="-60" dy="40">stat</tspan></text>
</g></g></svg>
<text class="r" x="1610" y="1342" textLength="680" lengthAdjust="spacing"><tspan fill="#3344aa">Figure 1:</tspan>Optimization landscape of <tspan font-family="Liberation Mono,monospace">MC-FedDA</tspan> involved statistical recovery.</text>

<!-- Algorithm 2 -->
<rect x="2466" y="458" width="502" height="2" fill="#111"/>
<text class="a2" x="2466" y="478"><tspan class="b">Algorithm 2</tspan> C-FedDA(<tspan class="m b">w</tspan>₀, <tspan class="m">R</tspan>, <tspan class="m">E</tspan>, ε₀, μ, <tspan class="m">L</tspan>, λ)</text>
<rect x="2466" y="487" width="502" height="1.5" fill="#111"/>
<g class="a2">
<text x="2491" y="506" text-anchor="end">1:</text><text x="2503" y="506" textLength="464" lengthAdjust="spacing"><tspan class="b">Input:</tspan> Initial point <tspan class="m b">w</tspan>₀, iteration number <tspan class="m">T</tspan>, constants</text>
<text x="2503" y="531" textLength="466" lengthAdjust="spacing">(ε₀, γᵣ, μ) and synchronized set ℐ = {tᵣ : 1 ≤ r ≤ R}.</text>
<text x="2491" y="557" text-anchor="end">2:</text><text x="2503" y="557"><tspan class="b">Initialize:</tspan> <tspan class="m b">w̃</tspan>₀ = <tspan class="m b">w̄</tspan>₀ = <tspan class="m b">w</tspan>₀, αᵣ = r + 1.</text>
<text x="2491" y="583" text-anchor="end">3:</text><text x="2503" y="583"><tspan class="b">for</tspan> Round <tspan class="m">r</tspan> = 0 <tspan class="b">to</tspan> <tspan class="m">R</tspan> <tspan class="b">do</tspan></text>
<text x="2491" y="609" text-anchor="end">4:</text><text x="2524" y="609"><tspan class="b">for</tspan> Client <tspan class="m">k</tspan> = 1 <tspan class="b">to</tspan> <tspan class="m">K</tspan> <tspan class="b">do</tspan></text>
<text x="2491" y="635" text-anchor="end">5:</text><text x="2545" y="635"><tspan class="b">for</tspan> <tspan class="m">t</tspan> = tᵣ <tspan class="b">to</tspan> tᵣ₊₁ − 1 <tspan class="b">do</tspan></text>
<text x="2491" y="661" text-anchor="end">6:</text><text x="2566" y="661">Query <tspan class="m b">G</tspan>ᵏₜ = ∇<tspan class="m">f</tspan>(<tspan class="m b">w</tspan>ᵏₜ; ξᵏₜ) for for ξᵏₜ ∼ 𝒟ₖ.</text>
<text x="2491" y="686" text-anchor="end">7:</text><text x="2566" y="686">Update <tspan class="m b">g</tspan>ᵏₜ = <tspan class="m b">g</tspan>ᵏₜ₋₁ + αᵣ<tspan class="m b">G</tspan>ᵏₜ.</text>
<text x="2491" y="711" text-anchor="end">8:</text><text x="2566" y="711"><tspan class="b">if</tspan> <tspan class="m">t</tspan> &lt; tᵣ₊₁ − 1 <tspan class="b">then</tspan></text>
<text x="2491" y="737" text-anchor="end">9:</text><text x="2587" y="737"><tspan class="m b">w</tspan>ᵏₜ = CProxᵣ(<tspan class="m b">g</tspan>ᵏₜ − μ<tspan class="m">E</tspan><tspan class="m b">w̃</tspan>ᵣ/2; <tspan class="m b">w</tspan>₀, ε₀, λ).</text>
<text x="2491" y="763" text-anchor="end">10:</text><text x="2566" y="763" class="b">else</text>
<text x="2491" y="789" text-anchor="end">11:</text><text x="2587" y="789">Send <tspan class="m b">g</tspan>ᵏ<tspan font-size="15">tᵣ₊₁−1</tspan> to the server.</text>
<text x="2491" y="815" text-anchor="end">12:</text><text x="2566" y="815" class="b">end if</text>
<text x="2491" y="840" text-anchor="end">13:</text><text x="2545" y="840" class="b">end for</text>
<text x="2491" y="866" text-anchor="end">14:</text><text x="2524" y="866" class="b">end for</text>
<text x="2491" y="893" text-anchor="end">15:</text><text x="2524" y="893">Server aggregates: <tspan class="m b">g</tspan><tspan font-size="15">tᵣ₊₁−1</tspan> = Σᴷₖ₌₁ πₖ<tspan class="m b">g</tspan>ᵏ<tspan font-size="15">tᵣ₊₁−1</tspan>.</text>
<text x="2491" y="918" text-anchor="end">16:</text><text x="2524" y="918">Server updates:</text>
<text x="2536" y="962"><tspan class="m b">w̄</tspan>ᵣ₊₁ = CProxᵣ(<tspan class="m b">g</tspan><tspan font-size="15">tᵣ₊₁−1</tspan> − μ<tspan class="m">E</tspan><tspan class="m b">w̃</tspan>ᵣ/2; <tspan class="m b">w</tspan>₀, ε₀, λ)</text>
<text x="2524" y="1013">and <tspan class="m b">w̃</tspan>ᵣ₊₁ = <tspan class="m b">w̃</tspan>ᵣ + αᵣ₊₁<tspan class="m b">w̄</tspan>ᵣ₊₁.</text>
<text x="2491" y="1038" text-anchor="end">17:</text><text x="2524" y="1038">Synchronization: <tspan class="m b">g</tspan>ᵏ<tspan font-size="15">tᵣ₊₁−1</tspan> ← <tspan class="m b">g</tspan><tspan font-size="15">tᵣ₊₁−1</tspan>.</text>
<text x="2491" y="1063" text-anchor="end">18:</text><text x="2503" y="1063" class="b">end for</text>
</g>
<rect x="2466" y="1073" width="502" height="1.5" fill="#111"/>
<!-- Algorithm 3 -->
<rect x="2466" y="1104" width="502" height="2" fill="#111"/>
<text class="a2" x="2466" y="1125"><tspan class="b">Algorithm 3</tspan> Multi-stage C-FedDA</text>
<rect x="2466" y="1133" width="502" height="1.5" fill="#111"/>
<g class="a2">
<text x="2489" y="1153" textLength="476" lengthAdjust="spacing"><tspan class="b">Input:</tspan> Initial point <tspan class="m b">ŵ</tspan>₀, number of stages <tspan class="m">M</tspan>, <tspan class="m">R</tspan>ₘ and</text>
<text x="2489" y="1179" textLength="478" lengthAdjust="spacing"><tspan class="m">E</tspan>ₘ for <tspan class="m">m</tspan> ∈ [M] and initial regularization parameter λ₀.</text>
<text x="2489" y="1204"><tspan class="b">for</tspan> Stage <tspan class="m">m</tspan> = 0 <tspan class="b">to</tspan> <tspan class="m">M</tspan> − 1 <tspan class="b">do</tspan></text>
<text x="2510" y="1230">Update: λₘ = 2⁻ᵐλ₀ and εₘ = 108Ψ²(M̄)λₘ/μ.</text>
<text x="2510" y="1255">Update estimator by calling C-FedDA</text>
<text x="2526" y="1303"><tspan class="m b">ŵ</tspan>ₘ₊₁ = C-FedDA(<tspan class="m b">ŵ</tspan>ₘ, <tspan class="m">R</tspan>ₘ, <tspan class="m">E</tspan>ₘ, εₘ, μ, <tspan class="m">L</tspan>, λₘ).</text>
<text x="2489" y="1348" class="b">end for</text>
</g>
<rect x="2466" y="1357" width="500" height="1.5" fill="#111"/>

<!-- Comparison -->
<text class="h" x="2106" y="1448" textLength="458" lengthAdjust="spacingAndGlyphs">Comparison of related works</text>
<rect x="1604" y="1466" width="1460" height="3" fill="#bbb"/>
<g class="t" font-size="25">
<text x="1604" y="1506" textLength="1460" lengthAdjust="spacing">Table 1:  Comparison of related works under bounded heterogeneity.  (R)SC and GC refer to (restricted) strongly convex and general</text>
<text x="1604" y="1540" textLength="1460" lengthAdjust="spacing">convex respectively.  (R)SM refers to (restricted) smooth.  N/A means not available.  <tspan class="m">K</tspan>: number of clients; <tspan class="m">L</tspan>: smooth parameter; μ:</text>
<text x="1604" y="1574" textLength="1460" lengthAdjust="spacing">(restricted) strongly convex parameter; σ²: variance of stochastic gradient; <tspan class="m b">ŵ</tspan>: global minimizer of <tspan fill="#d22">(1)</tspan>; <tspan class="m b">w</tspan>*: ground-truth solution <tspan fill="#d22">(2)</tspan>;</text>
<text x="1604" y="1608" textLength="630" lengthAdjust="spacing">ε<tspan font-size="17">stat</tspan>: optimal statistical precision; Õ: hides logarithmic factors.</text>
</g>
<rect x="1604" y="1656" width="1460" height="3" fill="#aaa"/>
<rect x="1604" y="1724" width="1460" height="3" fill="#aaa"/>
<rect x="1604" y="1954" width="1460" height="2" fill="#444"/>
<g class="tb">
<text x="1614" y="1699">Algorithm</text><text x="1751" y="1699">Reference</text>
<text x="1871" y="1684">Communication rounds</text><text x="1871" y="1712">for linear speedup</text>
<text x="2117" y="1699">Problem</text><text x="2268" y="1699">Conditions</text>
<text x="2388" y="1684">Convergence rate for</text><text x="2388" y="1712">φ(<tspan class="m b">ŵ</tspan><tspan font-size="15">Fast-FedDA</tspan>) − φ(<tspan class="m b">ŵ</tspan>)</text>
<text x="2622" y="1684">Iteration complexity for</text><text x="2622" y="1712">‖<tspan class="m b">ŵ</tspan><tspan font-size="15">MC-FedDA</tspan> − <tspan class="m b">w</tspan>*‖² ≤ ε<tspan font-size="15">stat</tspan></text>
<text x="2900" y="1699">Guarantee</text>
<text x="1614" y="1750">FedAvg</text><text x="1751" y="1750" fill="#22d">[2]</text><text x="1871" y="1750">𝒪(T¹ᐟ²K¹ᐟ²)</text><text x="2117" y="1750">unconstrained</text><text x="2268" y="1750">SC, SM</text><text x="2388" y="1750">𝒪(σ²/(μKT))</text><text x="2622" y="1750">N/A</text><text x="2900" y="1750">Expectation</text>
<text x="1871" y="1782">𝒪(T³ᐟ⁴K³ᐟ⁴)</text><text x="2117" y="1782">unconstrained</text><text x="2268" y="1782">GC, SM</text><text x="2388" y="1782">𝒪(σ/√KT)</text><text x="2622" y="1782">N/A</text><text x="2900" y="1782">Expectation</text>
<text x="1614" y="1813">SCAFFOLD</text><text x="1751" y="1813" fill="#22d">[3]</text><text x="1871" y="1813">Õ(L/μ)</text><text x="2117" y="1813">unconstrained</text><text x="2268" y="1813">SC, SM</text><text x="2388" y="1813">𝒪(σ²/(μKT))</text><text x="2622" y="1813">N/A</text><text x="2900" y="1813">Expectation</text>
<text x="1871" y="1845">𝒪(T¹ᐟ²K¹ᐟ²)</text><text x="2117" y="1845">unconstrained</text><text x="2268" y="1845">GC, SM</text><text x="2388" y="1845">𝒪(σ/√KT)</text><text x="2622" y="1845">N/A</text><text x="2900" y="1845">Expectation</text>
<text x="1614" y="1877">FedDA</text><text x="1751" y="1877" fill="#22d">[4]</text><text x="1871" y="1877">𝒪(T³ᐟ⁴K³ᐟ⁴)</text><text x="2117" y="1877">composite</text><text x="2268" y="1877">GC, SM</text><text x="2388" y="1877">𝒪(σ/√KT)</text><text x="2622" y="1877">N/A</text><text x="2900" y="1877">Expectation</text>
<text x="1614" y="1908" font-family="Liberation Mono,monospace" font-weight="bold" font-size="21">Fast-FedDA</text><text x="1751" y="1908">This paper</text><text x="1871" y="1908">Õ(T¹ᐟ²K¹ᐟ²)</text><text x="2117" y="1908">composite</text><text x="2268" y="1908">SC, SM</text><text x="2388" y="1908">𝒪(σ²/(μKT))</text><text x="2622" y="1908">N/A</text><text x="2900" y="1908">Expectation</text>
<text x="1614" y="1940" font-family="Liberation Mono,monospace" font-weight="bold" font-size="21">MC-FedDA</text><text x="1751" y="1940">This paper</text><text x="1871" y="1940">Õ(T¹ᐟ²K¹ᐟ²)</text><text x="2117" y="1940">composite</text><text x="2268" y="1940">RSC, RSM</text><text x="2388" y="1940">Õ(σ²/(μKT))</text><text x="2622" y="1940">Õ(σ²/(μKε<tspan font-size="15">stat</tspan>))</text><text x="2900" y="1940">High probability</text>
</g>

<!-- Experiments -->
<text class="h" x="1800" y="2030" textLength="1074" lengthAdjust="spacingAndGlyphs">Experiment Results for Sparse Logistic Regression on EMNIST-62</text>
<rect x="1604" y="2048" width="1460" height="3" fill="#bbb"/>

<!-- Plot 1 -->
<g transform="translate(1801,2085)">
<svg width="217" height="218" viewBox="0 -1.6 15000 0.25" preserveAspectRatio="none" overflow="hidden">
<g fill="none" stroke-width="2">
<polyline vector-effect="non-scaling-stroke" stroke="#edb120" points="800,-1.6 1200,-1.52 1600,-1.48 2200,-1.445 3000,-1.425 4000,-1.41 5000,-1.4 7000,-1.388 10000,-1.377 12500,-1.371 15000,-1.366"/>
<polyline vector-effect="non-scaling-stroke" stroke="#7e2f8e" points="500,-1.6 1000,-1.53 1500,-1.49 2200,-1.455 3000,-1.435 4000,-1.42 5000,-1.41 7000,-1.4 10000,-1.392 12500,-1.388 15000,-1.385"/>
<polyline vector-effect="non-scaling-stroke" stroke="#d95319" points="1500,-1.6 2200,-1.54 3000,-1.5 4000,-1.465 5000,-1.44 6500,-1.42 8000,-1.405 10000,-1.395 12500,-1.387 15000,-1.378"/>
<polyline vector-effect="non-scaling-stroke" stroke="#0072bd" points="1500,-1.6 2200,-1.54 3000,-1.505 4000,-1.47 5000,-1.45 6000,-1.44 6500,-1.44 7000,-1.428 8000,-1.42 9000,-1.418 10000,-1.41 11000,-1.407 12500,-1.402 14000,-1.4 15000,-1.4"/>
<polyline vector-effect="non-scaling-stroke" stroke="#77ac30" points="1100,-1.6 1600,-1.575 2200,-1.565 3000,-1.555 3300,-1.5 4000,-1.465 5000,-1.445 6000,-1.437 6500,-1.432 7000,-1.41 7500,-1.395 8500,-1.393 9000,-1.395 9500,-1.398 10000,-1.388 11000,-1.38 12000,-1.376 12300,-1.392 12600,-1.376 14000,-1.372 15000,-1.37"/>
</g></svg>
<rect x="0" y="0" width="217" height="218" fill="none" stroke="#222" stroke-width="2"/>
</g>
<!-- Plot 2 -->
<g transform="translate(2096,2085)">
<svg width="217" height="218" viewBox="0 -1.6 15000 0.25" preserveAspectRatio="none" overflow="hidden">
<polyline fill="none" vector-effect="non-scaling-stroke" stroke-width="2" stroke="#edb120" points="700,-1.6 1200,-1.535 1800,-1.505 2500,-1.485 3500,-1.47 5000,-1.455 7500,-1.44 10000,-1.433 12500,-1.428 15000,-1.425"/>
<polyline fill="none" vector-effect="non-scaling-stroke" stroke-width="2" stroke="#7e2f8e" points="700,-1.6 1200,-1.545 1800,-1.51 2500,-1.495 3500,-1.475 5000,-1.462 7500,-1.452 10000,-1.447 12500,-1.444 15000,-1.442"/>
<polyline fill="none" vector-effect="non-scaling-stroke" stroke-width="2" stroke="#d95319" points="1800,-1.6 2500,-1.55 3500,-1.515 5000,-1.49 6500,-1.47 8000,-1.455 10000,-1.447 12500,-1.442 15000,-1.438"/>
<polyline fill="none" vector-effect="non-scaling-stroke" stroke-width="2" stroke="#0072bd" points="1800,-1.6 2500,-1.56 3500,-1.525 5000,-1.5 6500,-1.49 7500,-1.475 9000,-1.472 10000,-1.467 12500,-1.46 14000,-1.456 15000,-1.457"/>
<polyline fill="none" vector-effect="non-scaling-stroke" stroke-width="2" stroke="#77ac30" points="3000,-1.6 3400,-1.54 4000,-1.515 5000,-1.5 6000,-1.49 6500,-1.48 7000,-1.462 8000,-1.45 9000,-1.452 10000,-1.45 11000,-1.443 12000,-1.44 12300,-1.455 12600,-1.44 14000,-1.435 15000,-1.432"/>
</svg>
<rect x="0" y="0" width="217" height="218" fill="none" stroke="#222" stroke-width="2"/>
</g>
<!-- Plot 3 -->
<g transform="translate(2391,2085)">
<svg width="217" height="218" viewBox="0 -0.66 15000 0.06" preserveAspectRatio="none" overflow="hidden">
<polyline fill="none" vector-effect="non-scaling-stroke" stroke-width="2" stroke="#edb120" points="500,-0.6 1000,-0.615 1500,-0.625 2500,-0.633 3500,-0.639 5000,-0.643 7000,-0.647 10000,-0.652 12500,-0.654 15000,-0.656"/>
<polyline fill="none" vector-effect="non-scaling-stroke" stroke-width="2" stroke="#7e2f8e" points="500,-0.6 1000,-0.612 1500,-0.62 2500,-0.627 4000,-0.635 6000,-0.641 8000,-0.645 10000,-0.648 12500,-0.651 15000,-0.652"/>
<polyline fill="none" vector-effect="non-scaling-stroke" stroke-width="2" stroke="#d95319" points="1500,-0.6 2200,-0.61 3000,-0.62 4000,-0.627 5000,-0.632 7000,-0.638 9000,-0.643 11000,-0.646 13000,-0.648 15000,-0.65"/>
<polyline fill="none" vector-effect="non-scaling-stroke" stroke-width="2" stroke="#0072bd" points="1500,-0.6 2500,-0.61 3500,-0.618 5000,-0.624 6000,-0.627 8000,-0.63 9000,-0.628 10000,-0.632 12000,-0.633 14000,-0.636 15000,-0.636"/>
<polyline fill="none" vector-effect="non-scaling-stroke" stroke-width="2" stroke="#77ac30" points="1300,-0.6 2000,-0.604 3000,-0.61 4000,-0.618 5000,-0.625 6500,-0.633 8000,-0.64 10000,-0.645 12500,-0.647 15000,-0.649"/>
</svg>
<rect x="0" y="0" width="217" height="218" fill="none" stroke="#222" stroke-width="2"/>
</g>
<!-- Plot 4 -->
<g transform="translate(2686,2085)">
<svg width="217" height="218" viewBox="0 -0.66 15000 0.06" preserveAspectRatio="none" overflow="hidden">
<polyline fill="none" vector-effect="non-scaling-stroke" stroke-width="2" stroke="#edb120" points="500,-0.6 1000,-0.612 1500,-0.62 2500,-0.627 4000,-0.632 6000,-0.635 8000,-0.637 10000,-0.638 12500,-0.639 15000,-0.64"/>
<polyline fill="none" vector-effect="non-scaling-stroke" stroke-width="2" stroke="#7e2f8e" points="500,-0.6 1000,-0.61 1500,-0.617 2500,-0.624 4000,-0.63 6000,-0.634 8000,-0.636 10000,-0.638 12500,-0.639 15000,-0.64"/>
<polyline fill="none" vector-effect="non-scaling-stroke" stroke-width="2" stroke="#d95319" points="1500,-0.6 2500,-0.61 3500,-0.617 5000,-0.624 7000,-0.629 9000,-0.632 11000,-0.634 13000,-0.635 15000,-0.636"/>
<polyline fill="none" vector-effect="non-scaling-stroke" stroke-width="2" stroke="#0072bd" points="1500,-0.6 2500,-0.608 3500,-0.614 5000,-0.619 7000,-0.623 9000,-0.622 10000,-0.626 12000,-0.627 14000,-0.63 15000,-0.63"/>
<polyline fill="none" vector-effect="non-scaling-stroke" stroke-width="2" stroke="#77ac30" points="1300,-0.6 2500,-0.605 3500,-0.612 5000,-0.62 7000,-0.628 9000,-0.632 11000,-0.634 13000,-0.635 15000,-0.637"/>
</svg>
<rect x="0" y="0" width="217" height="218" fill="none" stroke="#222" stroke-width="2"/>
</g>
<!-- Axis labels -->
<g class="s">
<g text-anchor="end">
<text x="1796" y="2091">1.6</text><text x="1796" y="2134">1.55</text><text x="1796" y="2178">1.5</text><text x="1796" y="2221">1.45</text><text x="1796" y="2265">1.4</text><text x="1796" y="2308">1.35</text>
<text x="2091" y="2091">1.6</text><text x="2091" y="2134">1.55</text><text x="2091" y="2178">1.5</text><text x="2091" y="2221">1.45</text><text x="2091" y="2265">1.4</text><text x="2091" y="2308">1.35</text>
<text x="2386" y="2091">0.66</text><text x="2386" y="2127">0.65</text><text x="2386" y="2164">0.64</text><text x="2386" y="2200">0.63</text><text x="2386" y="2236">0.62</text><text x="2386" y="2272">0.61</text><text x="2386" y="2308">0.6</text>
<text x="2681" y="2091">0.66</text><text x="2681" y="2127">0.65</text><text x="2681" y="2164">0.64</text><text x="2681" y="2200">0.63</text><text x="2681" y="2236">0.62</text><text x="2681" y="2272">0.61</text><text x="2681" y="2308">0.6</text>
</g>
<g text-anchor="middle">
<text x="1801" y="2322">0</text><text x="1873" y="2322">5000</text><text x="1946" y="2322">10000</text><text x="2018" y="2322">15000</text>
<text x="2096" y="2322">0</text><text x="2168" y="2322">5000</text><text x="2241" y="2322">10000</text><text x="2313" y="2322">15000</text>
<text x="2391" y="2322">0</text><text x="2463" y="2322">5000</text><text x="2536" y="2322">10000</text><text x="2608" y="2322">15000</text>
<text x="2686" y="2322">0</text><text x="2758" y="2322">5000</text><text x="2831" y="2322">10000</text><text x="2903" y="2322">15000</text>
<text x="1910" y="2342" font-size="16">Round</text><text x="2205" y="2342" font-size="16">Round</text><text x="2500" y="2342" font-size="16">Round</text><text x="2795" y="2342" font-size="16">Round</text>
<text transform="translate(1766,2194) rotate(-90)" font-size="16">Train Loss</text>
<text transform="translate(2061,2194) rotate(-90)" font-size="16">Test Loss</text>
<text transform="translate(2348,2194) rotate(-90)" font-size="16">Train Accuracy</text>
<text transform="translate(2643,2194) rotate(-90)" font-size="16">Test Accuracy</text>
</g>
<rect x="1880" y="2096" width="128" height="94" fill="#fff" stroke="#222" stroke-width="1.5"/>
<line x1="1884" y1="2107" x2="1920" y2="2107" stroke="#0072bd" stroke-width="2"/><text x="1922" y="2112">FedMiD</text>
<line x1="1884" y1="2125" x2="1920" y2="2125" stroke="#d95319" stroke-width="2"/><text x="1922" y="2130">FedDA</text>
<line x1="1884" y1="2143" x2="1920" y2="2143" stroke="#edb120" stroke-width="2"/><text x="1922" y="2148">Fast-FedDA</text>
<line x1="1884" y1="2161" x2="1920" y2="2161" stroke="#7e2f8e" stroke-width="2"/><text x="1922" y="2166">C-FedDA</text>
<line x1="1884" y1="2179" x2="1920" y2="2179" stroke="#77ac30" stroke-width="2"/><text x="1922" y="2184">MC-FedDA</text>
</g>
</svg>
</body></html>
